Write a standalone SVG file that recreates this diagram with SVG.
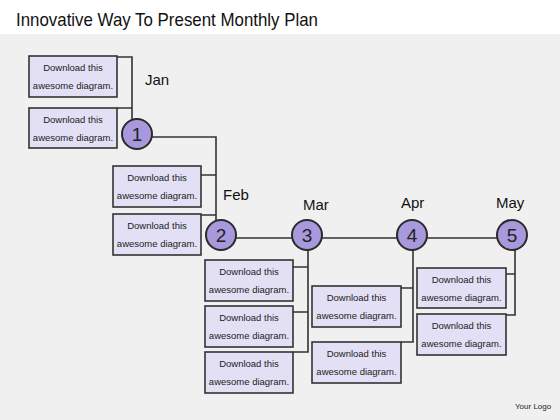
<svg xmlns="http://www.w3.org/2000/svg" width="560" height="420" viewBox="0 0 560 420">
<style>
.box{fill:#e3e0f5;stroke:#333;stroke-width:1.6}
.bt{font-family:"Liberation Sans",Arial,sans-serif;font-size:9.5px;fill:#222;text-anchor:middle}
.c{fill:#a898dc;stroke:#2a2a2a;stroke-width:2}
.ct{font-family:"Liberation Sans",Arial,sans-serif;font-size:19px;fill:#222;text-anchor:middle}
.lb{font-family:"Liberation Sans",Arial,sans-serif;font-size:15px;fill:#111}
.ln{fill:none;stroke:#333;stroke-width:1.6}
</style>
<rect x="0" y="0" width="560" height="420" fill="#f0f0f0"/>
<rect x="0" y="0" width="560" height="34" fill="#ffffff"/>
<text x="16" y="26" font-family="Liberation Sans,Arial,sans-serif" font-size="19" fill="#111" textLength="302" lengthAdjust="spacingAndGlyphs">Innovative Way To Present Monthly Plan</text>
<text x="515" y="409" font-family="Liberation Sans,Arial,sans-serif" font-size="8" fill="#222">Your Logo</text>

<g id="connectors" class="ln">
<path d="M117,57 H132 V122 M117,108 H132"/>
<path d="M152,137 H216 V222 M201,175 H216 M201,215 H216"/>
<path d="M236,238 H497"/>
<path d="M308,250 V352 H293 M293,267 H308 M293,312 H308"/>
<path d="M413,250 V342 H401 M401,288 H413"/>
<path d="M515,250 V315 H506 M506,274 H515"/>
</g>

<g id="jan-box1"><rect class="box" x="29" y="56" width="88" height="41"/><text class="bt" x="73" y="71">Download this</text><text class="bt" x="73" y="89">awesome diagram.</text></g>
<g id="jan-box2"><rect class="box" x="29" y="108" width="88" height="40"/><text class="bt" x="73" y="123">Download this</text><text class="bt" x="73" y="141">awesome diagram.</text></g>
<g id="feb-box1"><rect class="box" x="113" y="166" width="88" height="41"/><text class="bt" x="157" y="181">Download this</text><text class="bt" x="157" y="199">awesome diagram.</text></g>
<g id="feb-box2"><rect class="box" x="113" y="214" width="88" height="41"/><text class="bt" x="157" y="229">Download this</text><text class="bt" x="157" y="247">awesome diagram.</text></g>
<g id="mar-box1"><rect class="box" x="205" y="260" width="88" height="41"/><text class="bt" x="249" y="275">Download this</text><text class="bt" x="249" y="293">awesome diagram.</text></g>
<g id="mar-box2"><rect class="box" x="205" y="306" width="88" height="41"/><text class="bt" x="249" y="321">Download this</text><text class="bt" x="249" y="339">awesome diagram.</text></g>
<g id="mar-box3"><rect class="box" x="205" y="352" width="88" height="41"/><text class="bt" x="249" y="367">Download this</text><text class="bt" x="249" y="385">awesome diagram.</text></g>
<g id="apr-box1"><rect class="box" x="312" y="286" width="89" height="41"/><text class="bt" x="356.5" y="301">Download this</text><text class="bt" x="356.5" y="319">awesome diagram.</text></g>
<g id="apr-box2"><rect class="box" x="312" y="342" width="89" height="41"/><text class="bt" x="356.5" y="357">Download this</text><text class="bt" x="356.5" y="375">awesome diagram.</text></g>
<g id="may-box1"><rect class="box" x="417" y="268" width="89" height="40"/><text class="bt" x="461.5" y="283">Download this</text><text class="bt" x="461.5" y="301">awesome diagram.</text></g>
<g id="may-box2"><rect class="box" x="417" y="314" width="89" height="41"/><text class="bt" x="461.5" y="329">Download this</text><text class="bt" x="461.5" y="347">awesome diagram.</text></g>

<g id="node1"><circle class="c" cx="137" cy="134" r="15"/><text class="ct" x="137" y="141">1</text><text class="lb" x="145" y="85">Jan</text></g>
<g id="node2"><circle class="c" cx="221" cy="235" r="15"/><text class="ct" x="221" y="242">2</text><text class="lb" x="223" y="200">Feb</text></g>
<g id="node3"><circle class="c" cx="307" cy="235" r="15"/><text class="ct" x="307" y="242">3</text><text class="lb" x="303" y="210">Mar</text></g>
<g id="node4"><circle class="c" cx="412" cy="235" r="15"/><text class="ct" x="412" y="242">4</text><text class="lb" x="401" y="208">Apr</text></g>
<g id="node5"><circle class="c" cx="512" cy="235" r="15"/><text class="ct" x="512" y="242">5</text><text class="lb" x="496" y="208">May</text></g>
</svg>
